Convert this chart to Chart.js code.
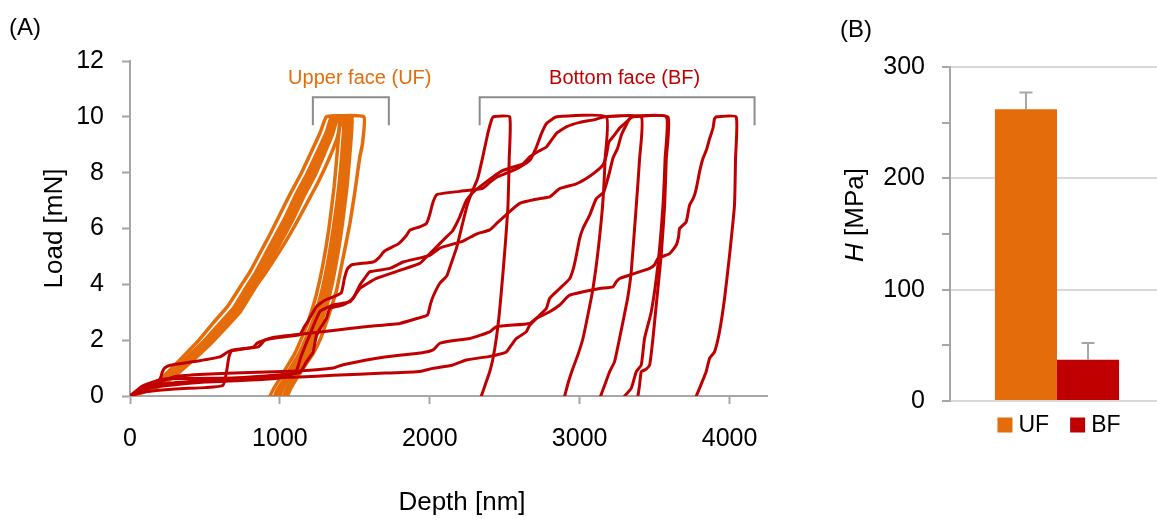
<!DOCTYPE html>
<html>
<head>
<meta charset="utf-8">
<script src="https://cdn.jsdelivr.net/npm/chart.js@4.4.1/dist/chart.umd.min.js"></script>
<style>
html,body{margin:0;padding:0;background:#fff;overflow:hidden;width:1157px;height:520px}
#ca{position:absolute;left:0;top:0}
#cb{position:absolute;left:800px;top:0}
</style>
</head>
<body>
<canvas id="ca" width="800" height="520"></canvas>
<canvas id="cb" width="364" height="520"></canvas>
<script>
// ---------------- Panel A data: [depth nm, load mN] ----------------
const uf1 = [[0,0],[50,0.15],[110,0.3],[180,0.5],[270,0.95],[370,1.5],[460,2.0],[560,2.65],[650,3.2],[740,3.95],[800,4.45],[870,5.15],[930,5.75],[1000,6.5],[1070,7.25],[1140,7.95],[1210,8.75],[1270,9.45],[1310,10],[1395,10],[1387,9],[1362,7.5],[1327,6],[1287,4.7],[1242,3.6],[1197,2.8],[1147,2.1],[1097,1.5],[1047,1.05],[997,0.6],[957,0.25],[935,0]];
const uf2 = [[0,0],[70,0.12],[130,0.25],[210,0.42],[310,0.85],[410,1.35],[505,1.85],[610,2.45],[705,3.05],[790,3.75],[860,4.35],[935,5.05],[995,5.65],[1060,6.35],[1130,7.1],[1200,7.85],[1265,8.6],[1320,9.35],[1350,10],[1425,10],[1418,9],[1393,7.5],[1356,6],[1316,4.7],[1272,3.6],[1226,2.8],[1176,2.1],[1126,1.5],[1076,1.05],[1026,0.6],[985,0.25],[965,0]];
const uf3 = [[0,0],[60,0.14],[120,0.27],[190,0.47],[290,0.9],[390,1.45],[490,1.95],[590,2.55],[690,3.15],[770,3.85],[840,4.45],[910,5.15],[970,5.75],[1040,6.45],[1110,7.25],[1180,7.95],[1250,8.75],[1310,9.45],[1345,10],[1445,10],[1436,9],[1410,7.5],[1374,6],[1335,4.7],[1290,3.6],[1245,2.8],[1195,2.1],[1145,1.5],[1095,1.05],[1045,0.6],[1005,0.25],[985,0]];
const uf4 = [[0,0],[60,0.1],[130,0.22],[220,0.45],[320,0.88],[420,1.38],[520,1.88],[620,2.48],[720,3.08],[800,3.78],[870,4.38],[940,5.08],[1000,5.68],[1070,6.38],[1140,7.18],[1210,7.88],[1275,8.68],[1335,9.4],[1375,10],[1460,10],[1451,9],[1425,7.5],[1389,6],[1349,4.7],[1305,3.6],[1260,2.8],[1210,2.1],[1160,1.5],[1110,1.05],[1060,0.6],[1020,0.25],[1000,0]];
const uf5 = [[0,0],[55,0.13],[115,0.26],[195,0.46],[295,0.92],[395,1.42],[495,1.92],[595,2.52],[695,3.12],[775,3.82],[845,4.42],[915,5.12],[975,5.72],[1045,6.42],[1115,7.22],[1185,7.92],[1255,8.72],[1315,9.42],[1355,10],[1430,10],[1422,9],[1397,7.5],[1362,6],[1322,4.7],[1278,3.6],[1233,2.8],[1183,2.1],[1133,1.5],[1083,1.05],[1033,0.6],[993,0.25],[972,0]];
const uf6 = [[0,0],[70,0.1],[140,0.22],[230,0.43],[330,0.85],[435,1.35],[535,1.85],[640,2.45],[740,3.05],[820,3.75],[890,4.35],[960,5.05],[1020,5.65],[1090,6.35],[1160,7.15],[1230,7.85],[1295,8.65],[1350,9.35],[1390,10],[1475,10],[1467,9],[1442,7.5],[1407,6],[1368,4.7],[1325,3.6],[1280,2.8],[1232,2.1],[1183,1.5],[1133,1.05],[1083,0.6],[1045,0.25],[1025,0]];
const uf7 = [[0,0],[60,0.12],[125,0.25],[205,0.45],[305,0.9],[405,1.4],[510,1.9],[615,2.5],[720,3.1],[810,3.75],[890,4.3],[970,4.95],[1040,5.55],[1110,6.2],[1180,6.9],[1250,7.6],[1320,8.4],[1380,9.2],[1420,10],[1480,10],[1472,9],[1448,7.5],[1413,6],[1374,4.7],[1331,3.6],[1287,2.8],[1240,2.1],[1190,1.5],[1140,1.05],[1092,0.6],[1058,0.25],[1040,0]];
const uf8 = [[0,0],[65,0.11],[135,0.24],[215,0.44],[315,0.87],[415,1.37],[515,1.87],[615,2.47],[715,3.07],[795,3.77],[865,4.37],[935,5.07],[995,5.67],[1065,6.37],[1135,7.17],[1205,7.87],[1275,8.67],[1335,9.37],[1370,10],[1560,10],[1550,9],[1533,8.56],[1500,7.3],[1467,6.18],[1420,4.9],[1378,3.79],[1320,2.8],[1267,2.0],[1220,1.5],[1178,1.17],[1120,0.7],[1075,0.3],[1050,0]];

const bf1 = [[0,0],[60,0.2],[150,0.45],[200,0.6],[215,0.85],[230,1.0],[267,1.1],[450,1.25],[600,1.4],[660,1.6],[822,1.75],[850,1.9],[956,2.1],[1178,2.24],[1356,2.35],[1600,2.5],[1800,2.6],[1930,2.8],[1985,2.9],[2005,3.3],[2025,3.6],[2067,4.04],[2113,4.3],[2140,4.7],[2180,5.33],[2220,6.2],[2253,6.9],[2287,7.37],[2320,7.8],[2353,8.55],[2387,9.4],[2410,9.85],[2425,10],[2533,10],[2530,8.5],[2522,6.83],[2505,5.5],[2489,4.45],[2465,3.0],[2444,2.06],[2420,1.3],[2400,0.87],[2370,0.4],[2344,0]];
const bf2 = [[0,0],[100,0.15],[300,0.25],[500,0.3],[620,0.38],[645,0.9],[660,1.4],[680,1.64],[856,1.76],[900,2.0],[1000,2.1],[1133,2.2],[1160,2.45],[1190,2.7],[1244,3.2],[1300,3.43],[1356,3.55],[1410,3.7],[1430,4.2],[1450,4.55],[1480,4.7],[1622,4.8],[1660,4.95],[1700,5.2],[1790,5.45],[1844,5.75],[1867,5.94],[1933,6.06],[1978,6.18],[2000,6.5],[2022,6.95],[2050,7.22],[2200,7.33],[2353,7.44],[2400,7.65],[2447,7.84],[2520,8.0],[2600,8.2],[2667,8.44],[2710,8.9],[2745,9.4],[2780,9.77],[2847,10],[3178,10],[3170,8.5],[3155,6.95],[3125,5.3],[3089,3.85],[3055,2.9],[3022,2.06],[2990,1.5],[2955,0.99],[2925,0.5],[2900,0]];
const bf3 = [[0,0],[50,0.15],[150,0.3],[300,0.4],[500,0.5],[700,0.55],[900,0.6],[1050,0.7],[1110,0.9],[1140,1.4],[1200,2.2],[1267,3.02],[1356,3.26],[1467,3.37],[1500,3.6],[1533,3.85],[1644,4.21],[1800,4.5],[1933,4.75],[1978,4.98],[2067,5.46],[2111,5.7],[2150,5.9],[2200,6.42],[2244,7.0],[2290,7.3],[2333,7.49],[2422,7.85],[2489,8.08],[2622,8.32],[2667,8.56],[2720,8.75],[2778,8.92],[2844,9.4],[2911,9.64],[3000,9.8],[3100,9.9],[3167,10],[3411,10],[3400,8.5],[3378,6.83],[3344,4.45],[3320,3.5],[3289,2.66],[3260,1.9],[3233,1.23],[3200,0.87],[3167,0.39],[3140,0]];
const bf4 = [[0,0],[80,0.35],[180,0.55],[244,0.62],[600,0.64],[1000,0.66],[1133,0.68],[1356,0.74],[1700,0.82],[1933,0.88],[2022,0.99],[2150,1.1],[2244,1.29],[2400,1.42],[2444,1.47],[2511,1.58],[2544,1.82],[2578,2.06],[2644,2.3],[2667,2.54],[2711,2.78],[2778,3.14],[2800,3.5],[2867,3.85],[2933,4.2],[2960,4.6],[2978,5.04],[3000,5.64],[3022,6.0],[3067,6.48],[3111,7.07],[3160,7.3],[3200,8.03],[3222,8.52],[3253,8.87],[3278,9.34],[3310,9.7],[3344,10],[3578,10],[3570,8.5],[3556,6.83],[3522,4.69],[3478,3.02],[3433,2.06],[3411,1.11],[3378,0.87],[3344,0.27],[3300,0]];
const bf5 = [[0,0],[60,0.2],[200,0.42],[400,0.52],[600,0.6],[800,0.68],[1000,0.76],[1133,0.84],[1178,1.23],[1222,1.58],[1244,2.18],[1290,2.6],[1311,2.78],[1333,3.14],[1422,3.26],[1489,3.5],[1533,3.97],[1570,4.25],[1600,4.45],[1733,4.57],[1822,4.8],[2000,5.04],[2067,5.3],[2222,5.55],[2311,5.8],[2400,5.95],[2450,6.2],[2511,6.5],[2600,6.9],[2711,7.05],[2800,7.13],[2867,7.43],[2978,7.6],[3044,7.79],[3100,8.0],[3155,8.27],[3178,8.62],[3195,9.1],[3222,9.28],[3267,9.6],[3300,9.76],[3356,10],[3589,10],[3578,8.5],[3567,6.83],[3544,5.04],[3511,3.26],[3489,2.06],[3467,1.11],[3440,0.95],[3411,0.87],[3400,0.4],[3389,0]];
const bf6 = [[0,0],[100,0.3],[200,0.5],[300,0.7],[500,0.78],[800,0.84],[1133,0.9],[1356,1.0],[1422,1.12],[1700,1.4],[1950,1.55],[2022,1.65],[2067,1.89],[2150,1.98],[2267,2.06],[2400,2.3],[2444,2.48],[2667,2.6],[2711,2.78],[2800,3.02],[2867,3.26],[2933,3.61],[3133,3.85],[3222,3.91],[3244,4.09],[3267,4.21],[3333,4.33],[3467,4.57],[3500,4.7],[3522,4.93],[3600,5.1],[3644,5.4],[3660,5.7],[3667,6.0],[3711,6.24],[3733,6.83],[3760,7.1],[3778,7.43],[3800,8.03],[3822,8.5],[3845,8.8],[3867,9.22],[3890,9.6],[3900,9.94],[3913,10],[4044,10],[4040,8.5],[4033,6.83],[4000,5.04],[3967,3.5],[3933,2.3],[3900,1.58],[3867,1.35],[3844,0.87],[3800,0.28],[3778,0]];

const ufCurves = [uf1, uf2, uf3, uf4, uf5, uf6, uf7, uf8];
const bfCurves = [bf1, bf2, bf3, bf4, bf5, bf6];

const depthTicks = [0, 1000, 2000, 3000, 4000];
const loadTicks = [0, 2, 4, 6, 8, 10, 12];

// annotation groups (depth range of bracket, label)
const groupLabels = ['Upper face (UF)', 'Bottom face (BF)'];
const groupFrom = [1220, 2333];
const groupTo = [1727, 4167];

// ---------------- Panel B data ----------------
const faceLabels = ['UF', 'BF'];
const hardness = [262, 37];
const hardnessErr = [15, 15];
const hTicks = [0, 100, 200, 300];

// ---------------- styles ----------------
const ORANGE = '#E46C0A';
const RED = '#C00000';
const AXIS = '#a6a6a6';
const FONT = '"Liberation Sans", Arial, sans-serif';

const toXY = c => c.map(p => ({x: p[0], y: p[1]}));
const lineDs = (c, col, w) => ({data: toXY(c), borderColor: col, backgroundColor: col, borderWidth: w,
  showLine: true, pointRadius: 0, tension: 0.15, fill: false, borderJoinStyle: 'round', borderCapStyle: 'round'});

const annotA = {
  id: 'annotA',
  afterDraw(chart) {
    const {ctx, scales: {x, y}} = chart;
    ctx.save();
    const colors = [ORANGE, RED];
    const labelAt = [1533, 3300];
    groupLabels.forEach((lab, i) => {
      const x0 = x.getPixelForValue(groupFrom[i]), x1 = x.getPixelForValue(groupTo[i]);
      const yt = y.getPixelForValue(10.7), yb = y.getPixelForValue(9.7);
      ctx.strokeStyle = '#8c8c8c'; ctx.lineWidth = 2;
      ctx.beginPath(); ctx.moveTo(x0, yb); ctx.lineTo(x0, yt); ctx.lineTo(x1, yt); ctx.lineTo(x1, yb); ctx.stroke();
      ctx.fillStyle = colors[i]; ctx.font = '20px ' + FONT;
      ctx.textAlign = 'center'; ctx.textBaseline = 'middle';
      ctx.fillText(lab, x.getPixelForValue(labelAt[i]), y.getPixelForValue(11.38));
    });
    ctx.fillStyle = '#000'; ctx.font = '24px ' + FONT; ctx.textAlign = 'left'; ctx.textBaseline = 'middle';
    ctx.fillText('(A)', 9, 28);
    ctx.font = '26px ' + FONT; ctx.textAlign = 'center';
    ctx.fillText('Depth [nm]', 462, 503);
    ctx.restore();
  }
};

new Chart(document.getElementById('ca'), {
  type: 'scatter',
  data: {datasets: [...bfCurves.map(c => lineDs(c, RED, 3)), ...ufCurves.map(c => lineDs(c, ORANGE, 3.5))]},
  options: {
    responsive: false, animation: false, events: [],
    layout: {padding: {left: 0, top: 61, right: 33, bottom: 0}},
    plugins: {legend: {display: false}, tooltip: {enabled: false}},
    scales: {
      x: {type: 'linear', min: 0, max: 4250,
        afterBuildTicks: s => { s.ticks = depthTicks.map(v => ({value: v})); },
        afterFit: s => { s.height = 124; },
        ticks: {font: {size: 25, family: FONT}, color: '#000', padding: 20, maxRotation: 0,
          callback: v => String(v)},
        grid: {drawOnChartArea: false, drawTicks: true, tickLength: 8, tickColor: AXIS, tickWidth: 2},
        border: {color: AXIS, width: 2}},
      y: {min: 0, max: 12,
        afterBuildTicks: s => { s.ticks = loadTicks.map(v => ({value: v})); },
        afterFit: s => { s.width = 130; },
        ticks: {font: {size: 25, family: FONT}, color: '#000', padding: 18, callback: v => String(v)},
        grid: {drawOnChartArea: false, drawTicks: true, tickLength: 8, tickColor: AXIS, tickWidth: 2},
        border: {color: AXIS, width: 2},
        title: {display: true, text: 'Load [mN]', color: '#000', font: {size: 26, family: FONT}, padding: {top: 39, bottom: 0}}}
    }
  },
  plugins: [annotA]
});

// ---------------- Panel B ----------------
const annotB = {
  id: 'annotB',
  afterDatasetsDraw(chart) {
    const {ctx, scales: {y}} = chart;
    ctx.save();
    ctx.strokeStyle = AXIS; ctx.lineWidth = 2;
    chart.data.datasets.forEach((ds, i) => {
      const bar = chart.getDatasetMeta(i).data[0];
      const top = y.getPixelForValue(hardness[i] + hardnessErr[i]);
      const base = y.getPixelForValue(hardness[i]);
      ctx.beginPath(); ctx.moveTo(bar.x, base); ctx.lineTo(bar.x, top);
      ctx.moveTo(bar.x - 6.5, top); ctx.lineTo(bar.x + 6.5, top); ctx.stroke();
    });
    ctx.restore();
  },
  afterDraw(chart) {
    const {ctx, chartArea} = chart;
    ctx.save();
    ctx.fillStyle = '#000'; ctx.font = '24px ' + FONT; ctx.textAlign = 'left'; ctx.textBaseline = 'middle';
    ctx.fillText('(B)', 40, 30);
    // axis title with italic H
    ctx.translate(56, 215); ctx.rotate(-Math.PI / 2);
    ctx.font = 'italic 26px ' + FONT; const w1 = ctx.measureText('H').width;
    ctx.font = '26px ' + FONT; const w2 = ctx.measureText(' [MPa]').width;
    const sx = -(w1 + w2) / 2;
    ctx.font = 'italic 26px ' + FONT; ctx.fillText('H', sx, 0);
    ctx.font = '26px ' + FONT; ctx.fillText(' [MPa]', sx + w1, 0);
    ctx.restore();
    // legend
    ctx.save();
    ctx.font = '23px ' + FONT; ctx.textBaseline = 'middle'; ctx.textAlign = 'left';
    const items = chart.data.datasets.map(d => ({t: d.label, c: d.backgroundColor, w: ctx.measureText(d.label).width}));
    const total = items.reduce((a, it) => a + 15 + 6 + it.w, 0) + 21 * (items.length - 1);
    let cx = (chartArea.left + chartArea.right) / 2 + 2 - total / 2;
    const cy = chartArea.bottom + 24;
    items.forEach(it => {
      ctx.fillStyle = it.c; ctx.fillRect(cx, cy - 7.5, 15, 15);
      ctx.fillStyle = '#000'; ctx.fillText(it.t, cx + 21, cy + 1);
      cx += 15 + 6 + it.w + 21;
    });
    ctx.restore();
  }
};

new Chart(document.getElementById('cb'), {
  type: 'bar',
  data: {labels: [''], datasets: faceLabels.map((l, i) => ({label: l, data: [hardness[i]],
    backgroundColor: i === 0 ? ORANGE : RED, borderWidth: 0, barPercentage: 1, categoryPercentage: 0.58}))},
  options: {
    responsive: false, animation: false, events: [],
    layout: {padding: {left: 0, top: 67, right: 0, bottom: 119}},
    plugins: {legend: {display: false}, tooltip: {enabled: false}},
    scales: {
      x: {display: false},
      y: {min: 0, max: 300,
        ticks: {stepSize: 25, font: {size: 25, family: FONT}, color: '#000', padding: 17,
          callback: v => hTicks.includes(v) ? String(v) : ''},
        afterFit: s => { s.width = 150; },
        grid: {color: c => (c.tick && hTicks.includes(c.tick.value)) ? '#d9d9d9' : 'rgba(0,0,0,0)',
          lineWidth: 2, drawTicks: true, tickLength: 8, tickColor: AXIS, tickWidth: 2},
        border: {color: AXIS, width: 2}}
    }
  },
  plugins: [annotB]
});
</script>
</body>
</html>
